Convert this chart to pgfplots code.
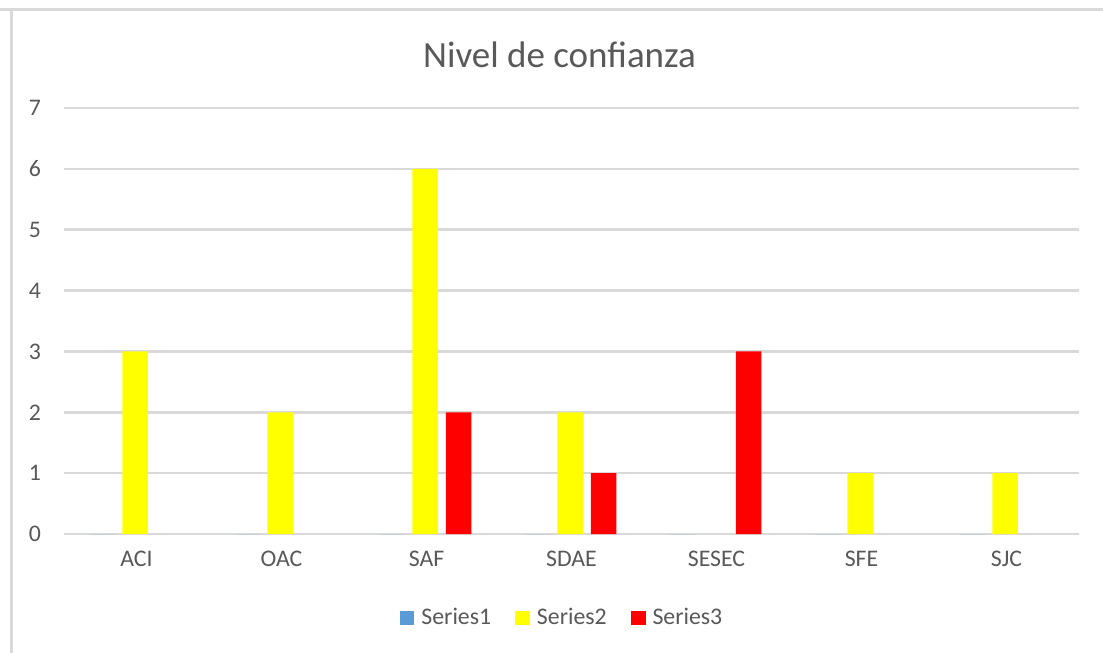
\documentclass[border=0pt]{standalone}
\usepackage{pgfplots}
\pgfplotsset{compat=1.18}
\usepackage{fontspec}
\setmainfont{Carlito}
\definecolor{gridc}{HTML}{D9D9D9}
\definecolor{txtc}{HTML}{595959}
\definecolor{sblue}{HTML}{5B9BD5}
\definecolor{syellow}{HTML}{FFFF00}
\definecolor{sred}{HTML}{FF0000}
\begin{document}
\begin{tikzpicture}
\useasboundingbox (0,0) rectangle (551.5pt,326.5pt);
\fill[white] (0,0) rectangle (551.5pt,326.5pt);
\draw[gridc, line width=1.5pt] (0,321.5pt) -- (551.5pt,321.5pt);
\draw[gridc, line width=1.5pt] (5.5pt,0) -- (5.5pt,321.5pt);
\node[txtc, font=\fontsize{18.5pt}{22pt}\selectfont] at (279.75pt,299pt) {Nivel de confianza};
\begin{axis}[
  at={(32pt,59.5pt)}, anchor=south west,
  scale only axis, width=507.5pt, height=213pt,
  xmin=-0.5, xmax=6.5, ymin=0, ymax=7,
  ytick={0,1,2,3,4,5,6,7},
  xtick={0,1,2,3,4,5,6},
  xticklabels={ACI,OAC,SAF,SDAE,SESEC,SFE,SJC},
  major tick length=0pt,
  axis line style={draw=none},
  ymajorgrids, grid style={gridc, line width=1.3pt},
  tick label style={txtc, font=\fontsize{11.9pt}{14pt}\selectfont},
  /pgf/number format/assume math mode=true,
  yticklabel style={xshift=-8pt},
  xticklabel style={yshift=-5pt},
  ybar, bar width=0.176,
  unbounded coords=discard,
  legend columns=3,
  legend style={at={(0.4916,-0.197)}, anchor=center, draw=none, fill=none,
    font=\fontsize{11.9pt}{14pt}\selectfont, text=txtc,
    /tikz/every odd column/.append style={column sep=1.5pt},
    /tikz/every even column/.append style={column sep=10pt}},
  legend image code/.code={\fill[#1,draw=none] (0pt,-3.6pt) rectangle (7.4pt,3.6pt);},
]
\addplot[fill=sblue, draw=none, bar shift=-0.231] coordinates {(0,0) (1,0) (2,0) (3,0) (4,0) (5,0) (6,0)};
\addplot[fill=syellow, draw=none, bar shift=-0.01, y filter/.expression={y==0 ? nan : y}] coordinates {(0,3) (1,2) (2,6) (3,2) (4,0) (5,1) (6,1)};
\addplot[fill=sred, draw=none, bar shift=0.221, y filter/.expression={y==0 ? nan : y}] coordinates {(0,0) (1,0) (2,2) (3,1) (4,3) (5,0) (6,0)};
\legend{Series1,Series2,Series3}
\end{axis}
\end{tikzpicture}
\end{document}
